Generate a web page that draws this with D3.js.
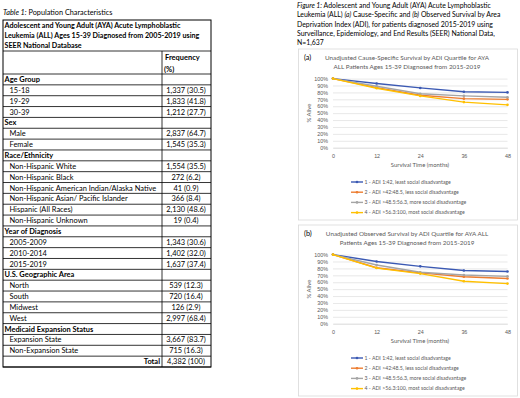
<!DOCTYPE html>
<html>
<head>
<meta charset="utf-8">
<script src="https://cdn.jsdelivr.net/npm/d3@7"></script>
<style>
body { margin: 0; background: #fff; }
svg { display: block; font-family: Lato, "Open Sans", sans-serif; }
</style>
</head>
<body>
<script>
// ---- table data ----
let tableCaption = "Population Characteristics"
let tableTitle = [
  "Adolescent and Young Adult (AYA) Acute Lymphoblastic",
  "Leukemia (ALL) Ages 15-39 Diagnosed from 2005-2019 using",
  "SEER National Database"
]
let sections = ["Age Group", "Sex", "Race/Ethnicity", "Year of Diagnosis", "U.S. Geographic Area", "Medicaid Expansion Status"]
let groupLabels = [
  ["15-18", "19-29", "30-39"],
  ["Male", "Female"],
  ["Non-Hispanic White", "Non-Hispanic Black", "Non-Hispanic American Indian/Alaska Native",
   "Non-Hispanic Asian/ Pacific Islander", "Hispanic (All Races)", "Non-Hispanic Unknown"],
  ["2005-2009", "2010-2014", "2015-2019"],
  ["North", "South", "Midwest", "West"],
  ["Expansion State", "Non-Expansion State"]
]
let groupFreqs = [
  ["1,337 (30.5)", "1,833 (41.8)", "1,212 (27.7)"],
  ["2,837 (64.7)", "1,545 (35.3)"],
  ["1,554 (35.5)", "272 (6.2)", "41 (0.9)", "366 (8.4)", "2,130 (48.6)", "19 (0.4)"],
  ["1,343 (30.6)", "1,402 (32.0)", "1,637 (37.4)"],
  ["539 (12.3)", "720 (16.4)", "126 (2.9)", "2,997 (68.4)"],
  ["3,667 (83.7)", "715 (16.3)"]
]
let totalFreq = "4,382 (100)"

// ---- figure data ----
let figCaption = [
  ["Figure 1:", " Adolescent and Young Adult (AYA) Acute Lymphoblastic"],
  ["", "Leukemia (ALL) ", "(a)", " Cause-Specific and ", "(b)", " Observed Survival by Area"],
  ["", "Deprivation Index (ADI), for patients diagnosed 2015-2019 using"],
  ["", "Surveillance, Epidemiology, and End Results (SEER) National Data,"],
  ["", "N=1,637"]
]
let months = [0, 12, 24, 36, 48]
let yTicks = [0, 10, 20, 30, 40, 50, 60, 70, 80, 90, 100]
let seriesNames = [
  "1 - ADI 1:42, least social disadvantage",
  "2 - ADI >42:48.5, less social disadvantage",
  "3 - ADI >48.5:56.3, more social disadvantage",
  "4 - ADI >56.3:100, most social disadvantage"
]
let causeSpecific = [
  [100, 93, 86.5, 81, 80],
  [100, 87, 76, 71, 70],
  [100, 89, 78, 75, 73],
  [100, 86, 75, 66, 62]
]
let observed = [
  [100, 90, 83, 77, 75.5],
  [100, 81, 73.5, 68, 65.5],
  [100, 85, 74.5, 70.5, 68.5],
  [100, 80.5, 72.5, 61.5, 58]
]
let colors = ["#3b59b3", "#ed7d31", "#a5a5a5", "#ffc000"]

let svg = d3.select("body").append("svg").attr("width", 520).attr("height", 398)

// ================= TABLE =================
let t = svg.append("g")
let tx0 = 3, txDiv = 162, tx1 = 211
let tTop = 20, titleBottom = 51, headBottom = 74, tBottom = 367
let fs = 7.45

t.append("text").attr("x", 3).attr("y", 15).attr("font-size", 7.3)
  .call(s => {
    s.append("tspan").attr("font-style", "italic").text("Table 1:")
    s.append("tspan").text(" " + tableCaption)
  })

// flatten rows
let rows = []
sections.forEach((s, i) => {
  rows.push({ type: "section", label: s, freq: "" })
  groupLabels[i].forEach((l, j) => rows.push({ type: "item", label: l, freq: groupFreqs[i][j] }))
})
rows.push({ type: "total", label: "Total", freq: totalFreq })

let rowScale = d3.scaleBand().domain(d3.range(rows.length)).range([headBottom, tBottom])

// title row
t.selectAll(".ttl").data(tableTitle).enter().append("text")
  .attr("x", tx0 + 1.5).attr("y", (d, i) => 28 + i * 10.2)
  .attr("font-size", 7.15).attr("font-weight", "bold").text(d => d)

// header
t.append("text").attr("x", txDiv + 3).attr("y", 60).attr("font-size", fs).attr("font-weight", "bold").text("Frequency")
t.append("text").attr("x", txDiv + 2).attr("y", 71.5).attr("font-size", fs).attr("font-weight", "bold").text("(%)")

// row texts
let rg = t.selectAll(".row").data(rows).enter().append("g")
  .attr("transform", (d, i) => "translate(0," + (rowScale(i) + rowScale.bandwidth() / 2) + ")")
rg.append("text")
  .attr("x", d => d.type == "item" ? tx0 + 6.5 : d.type == "total" ? txDiv - 2 : tx0 + 1.5)
  .attr("dy", "0.35em")
  .attr("text-anchor", d => d.type == "total" ? "end" : "start")
  .attr("font-size", fs)
  .attr("font-weight", d => d.type == "item" ? "normal" : "bold")
  .text(d => d.label)
rg.append("text")
  .attr("x", (txDiv + tx1) / 2 - 0.5)
  .attr("dy", "0.35em")
  .attr("text-anchor", "middle")
  .attr("font-size", fs)
  .text(d => d.freq)

// grid lines
let hLines = [titleBottom, headBottom].concat(rows.map((d, i) => rowScale(i) + rowScale.bandwidth()))
t.selectAll(".hl").data(hLines).enter().append("line")
  .attr("x1", tx0).attr("x2", tx1).attr("y1", d => d).attr("y2", d => d)
  .attr("stroke", "#000").attr("stroke-width", 0.8)
t.append("line").attr("x1", txDiv).attr("x2", txDiv).attr("y1", titleBottom).attr("y2", tBottom)
  .attr("stroke", "#000").attr("stroke-width", 0.8)
t.append("rect").attr("x", tx0).attr("y", tTop).attr("width", tx1 - tx0).attr("height", tBottom - tTop)
  .attr("fill", "none").attr("stroke", "#000").attr("stroke-width", 1)

// ================= FIGURE =================
let cap = svg.append("g").attr("font-size", 6.9)
figCaption.forEach((parts, i) => {
  let tt = cap.append("text").attr("x", 297).attr("y", 8 + i * 9.3)
  parts.forEach((p, k) => {
    tt.append("tspan").attr("font-style", k % 2 == 0 && p ? "italic" : "normal").text(p)
  })
})

function drawPanel(top, label, titleLines, values) {
  let g = svg.append("g")
  g.append("rect").attr("x", 298.5).attr("y", top).attr("width", 219).attr("height", 171)
    .attr("fill", "#fff").attr("stroke", "#d9d9d9").attr("stroke-width", 0.8)

  let x = d3.scaleLinear().domain([0, 48]).range([333, 507.5])
  let y = d3.scaleLinear().domain([0, 100]).range([top + 98.7, top + 29.6])

  g.append("text").attr("x", 304).attr("y", top + 11).attr("font-size", 7.3).text(label)
  g.selectAll(".title").data(titleLines).enter().append("text")
    .attr("x", 407).attr("y", (d, i) => top + 11 + i * 9).attr("text-anchor", "middle")
    .attr("font-size", 6.3).attr("fill", "#595959").text(d => d)

  // gridlines
  g.append("g").attr("transform", "translate(333,0)")
    .call(d3.axisLeft(y).tickValues(yTicks).tickSize(-(507.5 - 333)).tickFormat(""))
    .call(a => a.select(".domain").remove())
    .call(a => a.selectAll("line").attr("stroke", "#d9d9d9").attr("stroke-width", 0.6))

  // y axis labels
  g.append("g").attr("transform", "translate(333,0)")
    .call(d3.axisLeft(y).tickValues(yTicks).tickSize(0).tickPadding(5).tickFormat(d => d + "%"))
    .call(a => a.select(".domain").remove())
    .call(a => a.selectAll("text").attr("font-size", 5.4).attr("fill", "#595959").attr("font-family", null))

  // x axis
  g.append("g").attr("transform", "translate(0," + (top + 98.7) + ")")
    .call(d3.axisBottom(x).tickValues(months).tickSize(0).tickPadding(6).tickFormat(d3.format("d")))
    .call(a => a.select(".domain").attr("stroke", "#d9d9d9").attr("stroke-width", 0.6))
    .call(a => a.selectAll("text").attr("font-size", 5.4).attr("fill", "#595959").attr("font-family", null))

  g.append("text").attr("x", 420).attr("y", top + 118).attr("text-anchor", "middle")
    .attr("font-size", 5.9).attr("fill", "#595959").text("Survival Time (months)")
  g.append("text").attr("transform", "translate(311," + (top + 64) + ") rotate(-90)")
    .attr("text-anchor", "middle").attr("font-size", 5.9).attr("fill", "#595959").text("% Alive")

  let line = d3.line().x((d, i) => x(months[i])).y(d => y(d))
  values.forEach((v, s) => {
    g.append("path").datum(v).attr("d", line).attr("fill", "none")
      .attr("stroke", colors[s]).attr("stroke-width", 1.4)
    g.selectAll(".m" + s).data(v).enter().append("circle")
      .attr("cx", (d, i) => x(months[i])).attr("cy", d => y(d)).attr("r", 1.3)
      .attr("fill", colors[s])
  })

  // legend
  let lg = g.selectAll(".leg").data(seriesNames).enter().append("g")
    .attr("transform", (d, i) => "translate(351," + (top + 133 + i * 10.2) + ")")
  lg.append("line").attr("x1", 0).attr("x2", 12).attr("stroke", (d, i) => colors[i]).attr("stroke-width", 1.4)
  lg.append("circle").attr("cx", 6).attr("r", 1.3).attr("fill", (d, i) => colors[i])
  lg.append("text").attr("x", 13.5).attr("dy", "0.35em").attr("font-size", 5.2).attr("fill", "#595959").text(d => d)
}

drawPanel(49, "(a)", ["Unadjusted Cause-Specific Survival by ADI Quartile for AYA",
  "ALL Patients Ages 15-39 Diagnosed from 2015-2019"], causeSpecific)
drawPanel(225, "(b)", ["Unadjusted Observed Survival by ADI Quartile for AYA ALL",
  "Patients Ages 15-39 Diagnosed from 2015-2019"], observed)
</script>
</body>
</html>
